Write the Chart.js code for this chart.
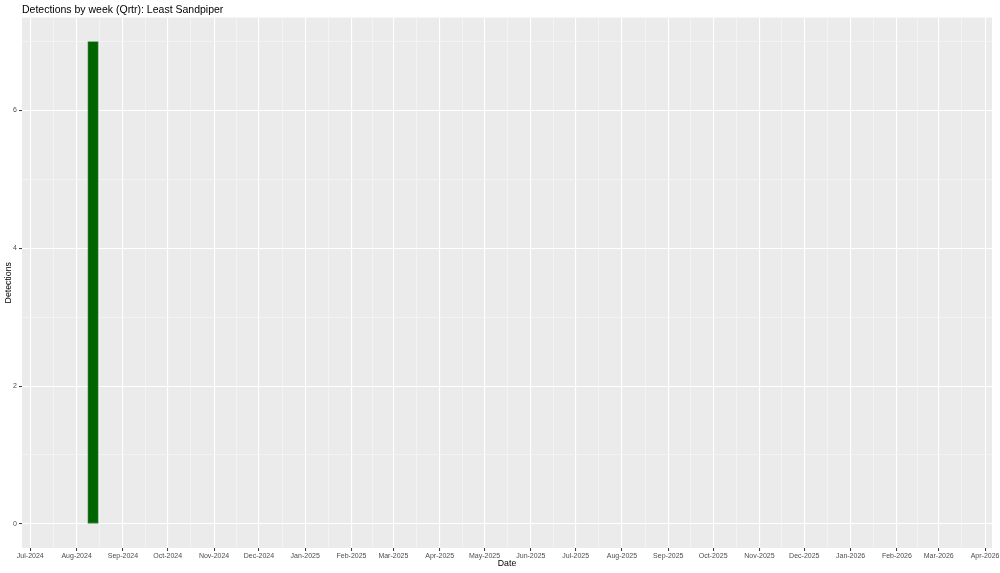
<!DOCTYPE html>
<html>
<head>
<meta charset="utf-8">
<script src="https://cdn.jsdelivr.net/npm/chart.js@4/dist/chart.umd.min.js"></script>
<style>
  html, body { margin: 0; padding: 0; background: #ffffff; }
  #wrap { width: 1000px; height: 573px; position: relative; }
</style>
</head>
<body>
<div id="wrap"><canvas id="c"></canvas></div>
<script>
// ---- data ----
const chartTitle = 'Detections by week (Qrtr): Least Sandpiper';
const weekDates = ['2024-08-12'];
const detections = [7];
const xTickDates = ['2024-07-01','2024-08-01','2024-09-01','2024-10-01','2024-11-01','2024-12-01',
  '2025-01-01','2025-02-01','2025-03-01','2025-04-01','2025-05-01','2025-06-01','2025-07-01',
  '2025-08-01','2025-09-01','2025-10-01','2025-11-01','2025-12-01','2026-01-01','2026-02-01',
  '2026-03-01','2026-04-01'];
const xTickLabels = ['Jul-2024','Aug-2024','Sep-2024','Oct-2024','Nov-2024','Dec-2024',
  'Jan-2025','Feb-2025','Mar-2025','Apr-2025','May-2025','Jun-2025','Jul-2025',
  'Aug-2025','Sep-2025','Oct-2025','Nov-2025','Dec-2025','Jan-2026','Feb-2026',
  'Mar-2026','Apr-2026'];
const yTickValues = [0, 2, 4, 6];
const yMinorValues = [1, 3, 5, 7];
const xRange = ['2024-06-25T11:00', '2026-04-05T16:00'];
const yRange = [-0.35, 7.35];

// ---- helpers ----
const dayNum = s => Date.parse(s.length > 10 ? s + ':00Z' : s + 'T00:00:00Z') / 86400000;
const majorX = xTickDates.map(dayNum);
const minorX = majorX.slice(1).map((v, i) => (v + majorX[i]) / 2);
const labelFor = new Map(majorX.map((v, i) => [v, xTickLabels[i]]));
const majorXSet = new Set(majorX);
const majorYSet = new Set(yTickValues);

const FONT = "'Liberation Sans', Arial, Helvetica, sans-serif";

const panelBg = {
  id: 'panelBg',
  beforeDraw(chart) {
    const {ctx, chartArea: a} = chart;
    ctx.save();
    ctx.fillStyle = '#EBEBEB';
    ctx.fillRect(a.left, a.top, a.right - a.left, a.bottom - a.top);
    ctx.restore();
  },
  afterDraw(chart) {
    const {ctx} = chart;
    ctx.save();
    ctx.fillStyle = '#000000';
    ctx.font = '10.5px ' + FONT;
    ctx.textAlign = 'left';
    ctx.textBaseline = 'alphabetic';
    ctx.fillText(chartTitle, chart.chartArea.left, 13.3);
    ctx.restore();
  }
};

new Chart(document.getElementById('c'), {
  type: 'bar',
  data: {
    datasets: [{
      data: weekDates.map((d, i) => ({x: dayNum(d), y: detections[i]})),
      backgroundColor: '#006400',
      borderColor: '#3f8a3f',
      borderWidth: 0.8,
      borderSkipped: false,
      barThickness: 10.5
    }]
  },
  plugins: [panelBg],
  options: {
    responsive: true,
    maintainAspectRatio: false,
    animation: false,
    devicePixelRatio: 1,
    layout: { padding: { top: 17.5, right: 4.3, bottom: 0, left: 0 } },
    plugins: { legend: { display: false }, tooltip: { enabled: false }, title: { display: false } },
    scales: {
      x: {
        type: 'linear',
        min: dayNum(xRange[0]),
        max: dayNum(xRange[1]),
        offset: false,
        afterBuildTicks(scale) {
          scale.ticks = majorX.concat(minorX).sort((a, b) => a - b).map(v => ({value: v}));
        },
        afterFit(scale) { scale.height = 25; },
        ticks: {
          autoSkip: false, maxRotation: 0, minRotation: 0, padding: 0.5,
          color: '#4D4D4D', font: { family: FONT, size: 7 },
          callback: v => labelFor.get(v) || ''
        },
        grid: {
          offset: false,
          drawOnChartArea: true, drawTicks: true, tickLength: 3,
          color: c => majorXSet.has(c.tick && c.tick.value) ? '#FFFFFF' : '#F5F5F5',
          lineWidth: c => majorXSet.has(c.tick && c.tick.value) ? 1.1 : 0.8,
          tickColor: c => majorXSet.has(c.tick && c.tick.value) ? '#333333' : 'rgba(0,0,0,0)',
          tickWidth: 1
        },
        border: { display: false },
        title: {
          display: true, text: 'Date', color: '#000000',
          font: { family: FONT, size: 8.75 }, padding: { top: 0, bottom: 4 }
        }
      },
      y: {
        type: 'linear',
        min: yRange[0],
        max: yRange[1],
        afterBuildTicks(scale) {
          scale.ticks = yTickValues.concat(yMinorValues).sort((a, b) => a - b).map(v => ({value: v}));
        },
        afterFit(scale) { scale.width = 22; },
        ticks: {
          autoSkip: false, padding: 2,
          color: '#4D4D4D', font: { family: FONT, size: 7 },
          callback: v => majorYSet.has(v) ? String(v) : ''
        },
        grid: {
          drawOnChartArea: true, drawTicks: true, tickLength: 3,
          color: c => majorYSet.has(c.tick && c.tick.value) ? '#FFFFFF' : '#F5F5F5',
          lineWidth: c => majorYSet.has(c.tick && c.tick.value) ? 1.1 : 0.8,
          tickColor: c => majorYSet.has(c.tick && c.tick.value) ? '#333333' : 'rgba(0,0,0,0)',
          tickWidth: 1
        },
        border: { display: false },
        title: {
          display: true, text: 'Detections', color: '#000000',
          font: { family: FONT, size: 8.75 }, padding: { top: 3, bottom: 0 }
        }
      }
    }
  }
});
</script>
</body>
</html>
